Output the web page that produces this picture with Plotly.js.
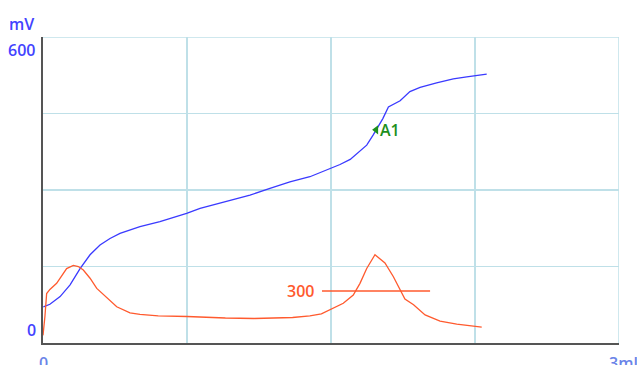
<!DOCTYPE html>
<html>
<head>
<meta charset="utf-8">
<script src="https://cdn.plot.ly/plotly-3.0.1.min.js"></script>
<style>html,body{margin:0;padding:0;background:#fff;}#chart{width:637px;height:365px;}</style>
</head>
<body>
<div id="chart"></div>
<script>
// Titration curve (blue): volume in ml, potential in mV
const volumeMl = [0.002, 0.036, 0.089, 0.141, 0.193, 0.245, 0.297, 0.349, 0.401, 0.505, 0.609, 0.748, 0.818, 0.974, 1.078, 1.182, 1.286, 1.39, 1.443, 1.495, 1.547, 1.6, 1.651, 1.686, 1.72, 1.746, 1.77, 1.799, 1.83, 1.86, 1.911, 1.964, 2.05, 2.137, 2.207, 2.311];
const potentialMv = [71, 76, 91, 114, 146, 173, 192, 205, 215, 228, 238, 254, 264, 280, 290, 303, 316, 326, 334, 343, 350, 360, 376, 388, 408, 424, 440, 463, 469, 475, 493, 501, 510, 518, 522, 527];

// Derivative curve (red), drawn on the same mV scale
const derivVolumeMl = [0, 0.005, 0.01, 0.019, 0.036, 0.071, 0.106, 0.123, 0.158, 0.184, 0.21, 0.245, 0.28, 0.332, 0.384, 0.453, 0.505, 0.6, 0.75, 0.95, 1.1, 1.3, 1.39, 1.45, 1.495, 1.564, 1.616, 1.651, 1.686, 1.729, 1.781, 1.825, 1.885, 1.93, 1.99, 2.068, 2.155, 2.285];
const derivValue = [15, 45, 52, 97, 105, 117, 137, 146, 152, 150, 143, 127, 107, 88, 71, 59, 56, 53, 52, 49, 48, 50, 53, 57, 65, 78, 94, 117, 146, 173, 157, 130, 86, 75, 55, 43, 37, 31];

// Threshold marker line
const thresholdX = [1.453, 2.016];
const thresholdY = [102, 102];
const thresholdLabel = "300";

// Endpoint marker
const endpointX = [1.735];
const endpointY = [418];
const endpointLabel = "A1";

// Axis labels
const yUnit = "mV";
const yTickLabels = ["0", "600"];
const xTickLabels = ["0", "3ml"];
const xMax = 3, yMax = 600;

const blue = "#3a3aff";
const red = "#ff5a2e";
const green = "#1d8f1d";
const labelBlue = "#4343ff";
const xLabelBlue = "#6a84e8";
const grid = "#bfe0e8";
const fnt = "Open Sans, Noto Sans, DejaVu Sans, sans-serif";

const traces = [
  {x: volumeMl, y: potentialMv, mode: "lines", line: {color: blue, width: 1.3}, hoverinfo: "skip"},
  {x: derivVolumeMl, y: derivValue, mode: "lines", line: {color: red, width: 1.3}, hoverinfo: "skip"},
  {x: thresholdX, y: thresholdY, mode: "lines", line: {color: red, width: 1.5}, hoverinfo: "skip"},
  {x: endpointX, y: endpointY, mode: "markers", marker: {symbol: "triangle-left", size: 8, color: green}, hoverinfo: "skip"}
];

const layout = {
  width: 637, height: 365,
  margin: {l: 43, r: 18, t: 37, b: 22, pad: 0},
  paper_bgcolor: "#ffffff", plot_bgcolor: "#ffffff",
  showlegend: false,
  xaxis: {range: [0, xMax], tick0: 0, dtick: 0.75, showgrid: true, gridcolor: grid, gridwidth: 1.5,
          showticklabels: false, ticks: "", zeroline: false, showline: true, linecolor: "#555555", linewidth: 2, fixedrange: true},
  yaxis: {range: [0, yMax], tick0: 0, dtick: 150, showgrid: true, gridcolor: grid, gridwidth: 1.5,
          showticklabels: false, ticks: "", zeroline: false, showline: true, linecolor: "#555555", linewidth: 2, fixedrange: true},
  shapes: [
    {type: "line", xref: "x", yref: "y", x0: 0, x1: xMax, y0: yMax, y1: yMax, line: {color: grid, width: 1.5}, layer: "below"},
    {type: "line", xref: "x", yref: "y", x0: xMax, x1: xMax, y0: 0, y1: yMax, line: {color: grid, width: 1.5}, layer: "below"}
  ],
  annotations: [
    {xref: "paper", yref: "paper", x: 0, y: 1, xanchor: "right", yanchor: "bottom", xshift: -7, yshift: 0,
     text: yUnit, showarrow: false, font: {family: fnt, size: 16, color: labelBlue, weight: 600}},
    {xref: "paper", yref: "y", x: 0, y: yMax, xanchor: "right", yanchor: "top", xshift: -6, yshift: 0,
     text: yTickLabels[1], showarrow: false, font: {family: fnt, size: 16, color: labelBlue, weight: 600}},
    {xref: "paper", yref: "y", x: 0, y: 0, xanchor: "right", yanchor: "bottom", xshift: -5, yshift: 0,
     text: yTickLabels[0], showarrow: false, font: {family: fnt, size: 16, color: labelBlue, weight: 600}},
    {xref: "x", yref: "paper", x: 0, y: 0, xanchor: "center", yanchor: "top", yshift: -7,
     text: xTickLabels[0], showarrow: false, font: {family: fnt, size: 16, color: xLabelBlue, weight: 600}},
    {xref: "x", yref: "paper", x: xMax, y: 0, xanchor: "center", yanchor: "top", xshift: 4, yshift: -7,
     text: xTickLabels[1], showarrow: false, font: {family: fnt, size: 16, color: xLabelBlue, weight: 600}},
    {xref: "x", yref: "y", x: thresholdX[0], y: thresholdY[0], xanchor: "right", yanchor: "middle", xshift: -6,
     text: thresholdLabel, showarrow: false, font: {family: fnt, size: 16, color: red, weight: 600}},
    {xref: "x", yref: "y", x: endpointX[0], y: endpointY[0], xanchor: "left", yanchor: "middle", xshift: 2,
     text: endpointLabel, showarrow: false, font: {family: fnt, size: 16, color: green, weight: 600}}
  ]
};

Plotly.newPlot("chart", traces, layout, {staticPlot: true, displayModeBar: false});
</script>
</body>
</html>
